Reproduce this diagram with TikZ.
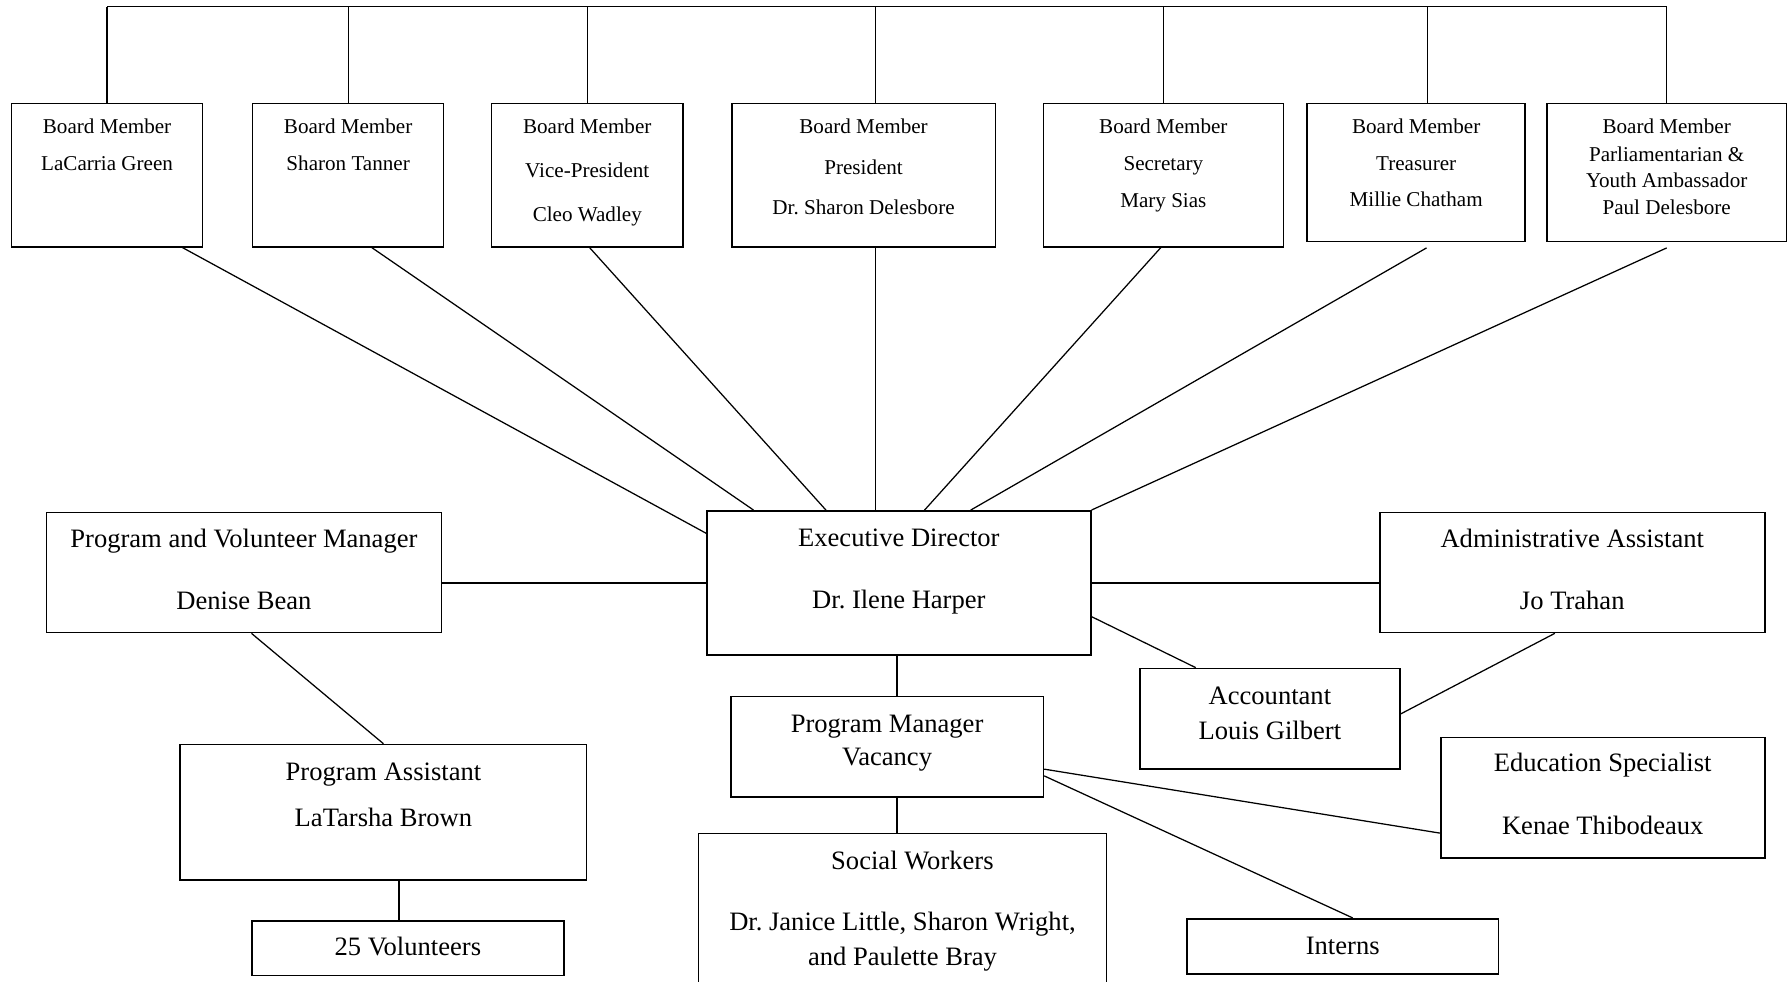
\documentclass[tikz,border=0pt]{standalone}
\usepackage{fontspec}
\setmainfont{Liberation Serif}

\begin{document}
\begin{tikzpicture}[x=1pt, y=-1pt,
   box/.style = {draw, line width=1.4pt, inner sep=0pt, align=center, anchor=north},
   board/.style = {box, font=\fontsize{18.5}{#1}\selectfont},
   staff/.style = {box, font=\fontsize{23.3}{#1}\selectfont},
   link/.style = {line width=1.1pt}]
\useasboundingbox (0,0) rectangle (1568,861);

% board row (text height = top of box to last baseline)
\node[board=32.1, minimum width=167.6pt, text height=58.8pt, text depth=66.9pt] (b1) at (93.9,90) {Board Member\\LaCarria Green};
\node[board=32.1, minimum width=167.6pt, text height=58.8pt, text depth=66.9pt] (b2) at (305.3,90) {Board Member\\Sharon Tanner};
\node[board=38.3, minimum width=168.2pt, text height=103.3pt, text depth=22.4pt] (b3) at (515,90) {Board Member\\Vice-President\\Cleo Wadley};
\node[board=35.4, minimum width=231.2pt, text height=97.5pt, text depth=28.2pt] (b4) at (757.3,90) {Board Member\\President\\Dr.\ Sharon Delesbore};
\node[board=32.4, minimum width=210.5pt, text height=91.5pt, text depth=34.2pt] (b5) at (1020.2,90) {Board Member\\Secretary\\Mary Sias};
\node[board=32, minimum width=191.2pt, text height=90.7pt, text depth=30.3pt] (b6) at (1241.9,90) {Board Member\\Treasurer\\Millie Chatham};
\node[board=23, minimum width=210.4pt, text height=97pt, text depth=24pt] (b7) at (1461.6,90)
   {Board Member\\[1.3pt]Parliamentarian \&\\Youth Ambassador\\Paul Delesbore};

% staff
\node[staff=54.1, minimum width=336.5pt, text height=85.3pt, text depth=41.2pt] (ed) at (788.25,447.3) {Executive Director\\Dr.\ Ilene Harper};
\node[staff=54.1, minimum width=346.2pt, text height=84.8pt, text depth=20.5pt] (pvm) at (213.9,448.7) {Program and Volunteer Manager\\Denise Bean};
\node[staff=54.1, minimum width=337.6pt, text height=84.8pt, text depth=20.5pt] (adm) at (1378.8,448.7) {Administrative Assistant\\Jo Trahan};
\node[staff=30.7, minimum width=227.7pt, text height=62pt, text depth=26.3pt] (acc) at (1113.65,585.5) {Accountant\\Louis Gilbert};
\node[staff=29.2, minimum width=274.2pt, text height=60.9pt, text depth=27.1pt] (pm) at (777.9,610) {Program Manager\\Vacancy};
\node[staff=30.7, minimum width=358.1pt, text height=116.1pt, text depth=33.7pt] (sw) at (791.45,730.2)
   {\rule{17.4pt}{0pt}Social Workers\\[23.4pt]Dr.\ Janice Little, Sharon Wright,\\and Paulette Bray};
\node[staff=55, minimum width=284.1pt, text height=84.8pt, text depth=21pt] (eds) at (1405.5,646) {Education Specialist\\Kenae Thibodeaux};
\node[staff=30, minimum width=273pt, text height=31pt, text depth=17.6pt] (int) at (1177.5,805) {Interns};
\node[staff=41, minimum width=356.5pt, text height=72.2pt, text depth=46.6pt] (pa) at (336.25,652.2) {Program Assistant\\LaTarsha Brown};
\node[staff=30, minimum width=273.4pt, text height=30.7pt, text depth=17.3pt] (vol) at (357.7,806.8) {25 Volunteers};

% top bar
\coordinate (bar) at (0,5.8);
\draw[link] (b1.north |- bar) -- ([xshift=0.6pt]b7.north |- bar);
\foreach \i in {1,2,3,5,7}
   \draw[link] (b\i.north) -- (b\i.north |- bar);
\draw[link] ([xshift=10.4pt]b4.north) -- ([xshift=10.4pt]b4.north |- bar);
\draw[link] ([xshift=9.7pt]b6.north) -- ([xshift=9.7pt]b6.north |- bar);

% board to director
\draw[link] ([xshift=66.1pt]b1.south) -- ([yshift=-20.4pt]ed.north west);
\draw[link] ([xshift=20.7pt]b2.south) -- ([xshift=41.5pt]ed.north west);
\draw[link] ([xshift=2pt]b3.south) -- ([xshift=105pt]ed.north west);
\draw[link] ([xshift=10.4pt]b4.south) -- ([xshift=10.4pt]b4.south |- ed.north);
\draw[link] ([xshift=-2.2pt]b5.south) -- ([xshift=191.5pt]ed.north west);
\draw[link] ([xshift=9.1pt,yshift=-5pt]b6.south) -- ([xshift=232pt]ed.north west);
\draw[link] ([yshift=-5pt]b7.south) -- (ed.north east);

% director to staff
\draw[link] (ed.west) -- (ed.west -| pvm.east);
\draw[link] (ed.east) -- (ed.east -| adm.west);
\draw[link] ([yshift=-29.5pt]ed.east) -- ([xshift=49.5pt]acc.north west);
\draw[link] ([xshift=-15.3pt]adm.south) -- ([yshift=4.2pt]acc.east);
\draw[link] ([xshift=8.8pt]pm.north) -- ([xshift=8.8pt]pm.north |- ed.south);
\draw[link] ([xshift=8.7pt]pm.south) -- ([xshift=8.7pt]pm.south |- sw.north);
\draw[link] ([yshift=-19.8pt]pm.east) -- ([yshift=-31pt]eds.west);
\draw[link] ([yshift=-25.7pt]pm.east) -- ([xshift=8.8pt]int.north);
\draw[link] ([xshift=6.6pt]pvm.south) -- (pa.north);
\draw[link] ([xshift=13.6pt]pa.south) -- ([xshift=13.6pt]pa.south |- vol.north);
\end{tikzpicture}
\end{document}
